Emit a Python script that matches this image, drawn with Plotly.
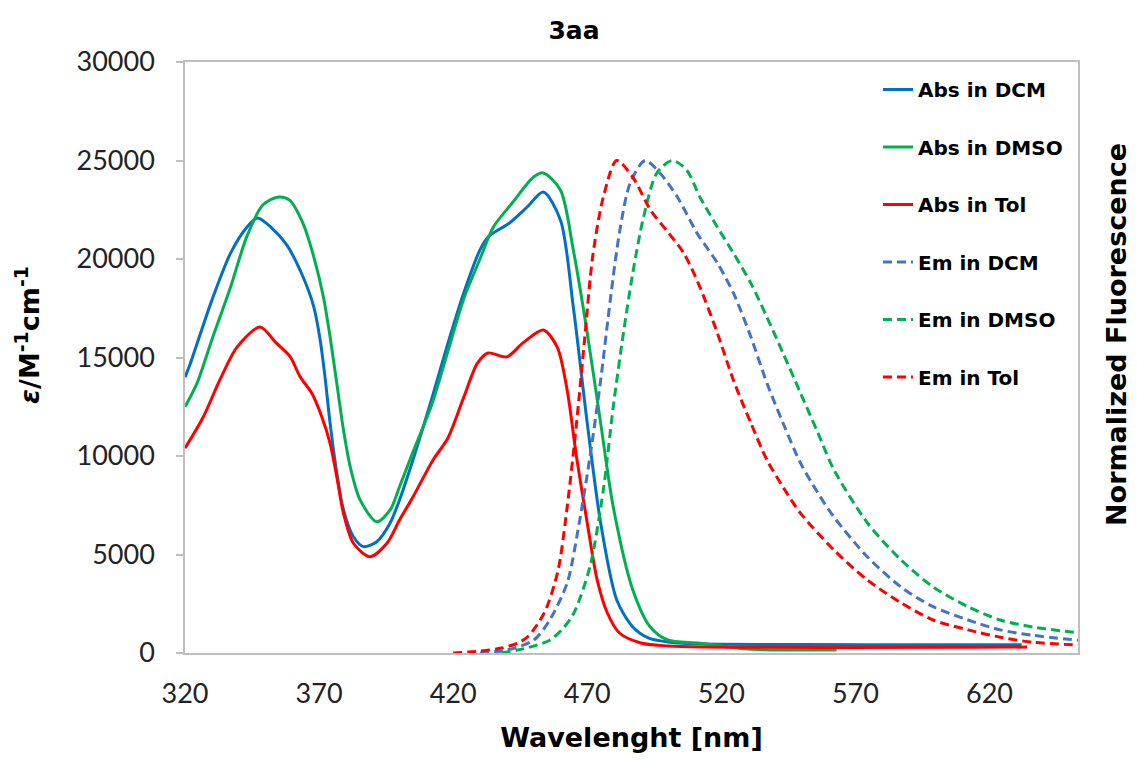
import plotly.graph_objects as go

# Absorption spectra (molar absorptivity, M^-1 cm^-1)
abs_dcm_wl = [320, 322, 330, 337, 343, 347, 352, 358, 364, 368, 370.4, 372.2, 374.1, 376.6, 379.1,
              382.8, 386.5, 391.5, 396.5, 400, 405, 412, 418, 424, 430, 433, 441, 447.6, 453.6, 460,
              464.8, 470, 475, 481, 487, 493, 500, 510, 550, 600, 632]
abs_dcm = [14000, 14700, 17900, 20300, 21600, 22080, 21620, 20700, 19100, 17580, 15890, 14030, 11670,
           9140, 7260, 5900, 5400, 5650, 6600, 7770, 9800, 12900, 15700, 18300, 20460, 21120, 21830,
           22640, 23400, 21980, 17560, 11670, 6600, 2690, 1320, 750, 560, 470, 430, 420, 420]

abs_dmso_wl = [320, 324.5, 330, 337, 343, 349, 355, 359, 364, 368, 371.6, 374.1, 376.6, 379.1, 381.6,
               385.3, 391.5, 396.5, 400, 405, 412, 418, 424, 430, 435, 442, 450, 453.6, 460, 464.8,
               470, 475, 479.7, 487, 493.5, 500, 512, 530, 563]
abs_dmso = [12500, 13700, 15890, 18580, 21120, 22740, 23150, 22990, 21810, 20120, 18080, 16050, 13690,
            11320, 9460, 7770, 6660, 7260, 8440, 10200, 12600, 15300, 18000, 20000, 21620, 22840,
            24160, 24370, 23500, 20460, 16240, 11670, 7410, 3200, 1320, 660, 500, 200, 150]

abs_tol_wl = [320, 326.8, 333, 339.4, 348, 354, 359.2, 362.9, 367.3, 371, 374.1, 376.6, 379.1, 382.8,
              389, 395.3, 400, 405, 412.5, 418, 424, 429, 433, 440, 446, 453.6, 458.8, 462.5, 466,
              470, 473.7, 477.5, 482, 490, 500, 634]
abs_tol = [10400, 11980, 13860, 15530, 16550, 15740, 15040, 14030, 13180, 11990, 10640, 8950, 7090,
           5570, 4890, 5570, 6750, 7920, 9800, 10900, 13000, 14700, 15230, 15030, 15740, 16400,
           15530, 13350, 9950, 6600, 3710, 2030, 1015, 510, 360, 300]

# Normalized emission spectra
em_dcm_wl = [430, 440, 450, 456, 462.5, 467, 471, 475, 478.6, 482, 486, 491.6, 497, 503.6, 511,
             518.5, 524.5, 531, 537, 543, 549.5, 556, 562, 574.5, 587, 599, 612, 624, 636, 653]
em_dcm = [0.0, 0.006, 0.026, 0.067, 0.142, 0.264, 0.398, 0.554, 0.717, 0.853, 0.954, 1.000, 0.975,
          0.926, 0.852, 0.792, 0.731, 0.642, 0.548, 0.467, 0.386, 0.325, 0.276, 0.195, 0.134,
          0.094, 0.067, 0.047, 0.036, 0.026]

em_dmso_wl = [438, 444, 450, 456, 461, 465, 471, 476, 479.7, 483.5, 487, 491, 496, 501.7, 507, 512,
              518.5, 524.5, 531, 537, 543, 549.5, 556, 562, 574.5, 587, 599, 612, 624, 636, 653]
em_dmso = [0.0, 0.006, 0.014, 0.026, 0.050, 0.081, 0.175, 0.331, 0.500, 0.650, 0.772, 0.885, 0.975,
           1.000, 0.981, 0.926, 0.865, 0.812, 0.751, 0.682, 0.609, 0.528, 0.447, 0.372, 0.264,
           0.189, 0.134, 0.094, 0.067, 0.053, 0.041]

em_tol_wl = [420, 430, 438, 444, 448, 454, 459, 462.5, 466, 469, 472, 476, 481, 487, 493.5, 500, 506,
             512, 518.5, 524.5, 531, 537, 543, 549.5, 562, 574.5, 587, 599, 612, 624, 636, 653]
em_tol = [0.0, 0.004, 0.010, 0.020, 0.034, 0.082, 0.165, 0.296, 0.467, 0.636, 0.804, 0.926, 1.000,
          0.966, 0.900, 0.855, 0.812, 0.743, 0.650, 0.554, 0.467, 0.392, 0.337, 0.284, 0.209,
          0.148, 0.102, 0.067, 0.047, 0.032, 0.022, 0.016]

x_ticks = [320, 370, 420, 470, 520, 570, 620]
y_ticks = [0, 5000, 10000, 15000, 20000, 25000, 30000]

BLUE = "#0070C0"
GREEN = "#00B050"
RED = "#FF0000"
EM_BLUE = "#4472C4"
TICK_FONT = "Lato"
BOLD_FONT = "DejaVu Sans"
GRAY = "#BFBFBF"
DASH = "9px,5px"

series = [
    ("Abs in DCM", abs_dcm_wl, abs_dcm, BLUE, "solid", "y"),
    ("Abs in DMSO", abs_dmso_wl, abs_dmso, GREEN, "solid", "y"),
    ("Abs in Tol", abs_tol_wl, abs_tol, RED, "solid", "y"),
    ("Em in DCM", em_dcm_wl, em_dcm, EM_BLUE, DASH, "y2"),
    ("Em in DMSO", em_dmso_wl, em_dmso, GREEN, DASH, "y2"),
    ("Em in Tol", em_tol_wl, em_tol, RED, DASH, "y2"),
]

fig = go.Figure()
for name, xs, ys, color, dash, axis in series:
    fig.add_trace(go.Scatter(
        x=xs, y=ys, name=f"<b>{name}</b>", mode="lines", yaxis=axis, legendgroup=name,
        line=dict(color=color, width=3, dash=dash, shape="spline", smoothing=0.8),
    ))

fig.update_layout(
    width=1137, height=763,
    margin=dict(l=185, r=59, t=62, b=110),
    paper_bgcolor="white", plot_bgcolor="white",
    font=dict(family=TICK_FONT, color="#000000"),
    title=dict(text="<b>3aa</b>", x=574 / 1137, xref="container", xanchor="center",
               y=1 - 30 / 763, yref="container", yanchor="middle",
               font=dict(family=BOLD_FONT, size=25, color="#000000")),
    xaxis=dict(
        range=[320, 653], tickvals=x_ticks, ticks="", showgrid=False, zeroline=False,
        showline=True, linecolor=GRAY, linewidth=1.5, mirror=True,
        tickfont=dict(family=TICK_FONT, size=27, color="#222222"), ticklabelstandoff=16,
        title=dict(text="<b>Wavelenght [nm]</b>",
                   font=dict(family=BOLD_FONT, size=27, color="#000000"), standoff=20),
    ),
    yaxis=dict(
        range=[0, 30000], tickvals=y_ticks, tickformat="d", ticks="outside", ticklen=7,
        tickcolor=GRAY, tickwidth=1.5, showgrid=False, zeroline=False,
        showline=True, linecolor=GRAY, linewidth=1.5, mirror=True,
        tickfont=dict(family=TICK_FONT, size=27, color="#222222"), ticklabelstandoff=16,
    ),
    yaxis2=dict(
        range=[0, 1.2], overlaying="y", side="right", showticklabels=False, ticks="",
        showgrid=False, zeroline=False, showline=False,
    ),
    legend=dict(
        x=(878 - 185) / 893, xanchor="left", y=(653 - 70) / 591, yanchor="top",
        bgcolor="rgba(0,0,0,0)", tracegroupgap=28.5,
        font=dict(family=BOLD_FONT, size=20, color="#000000"),
    ),
    showlegend=True,
)

# Axis titles for the absorption (left) and emission (right) scales
fig.add_annotation(
    text="<b><i>ε</i>/M<sup>-1</sup>cm<sup>-1</sup></b>", textangle=-90,
    xref="paper", yref="paper", x=(27 - 185) / 893, y=(653 - 335) / 591,
    xanchor="center", yanchor="middle", showarrow=False,
    font=dict(family=BOLD_FONT, size=27, color="#000000"),
)
fig.add_annotation(
    text="<b>Normalized Fluorescence</b>", textangle=-90,
    xref="paper", yref="paper", x=(1116 - 185) / 893, y=(653 - 335) / 591,
    xanchor="center", yanchor="middle", showarrow=False,
    font=dict(family=BOLD_FONT, size=27, color="#000000"),
)

fig.write_html("out.html")
